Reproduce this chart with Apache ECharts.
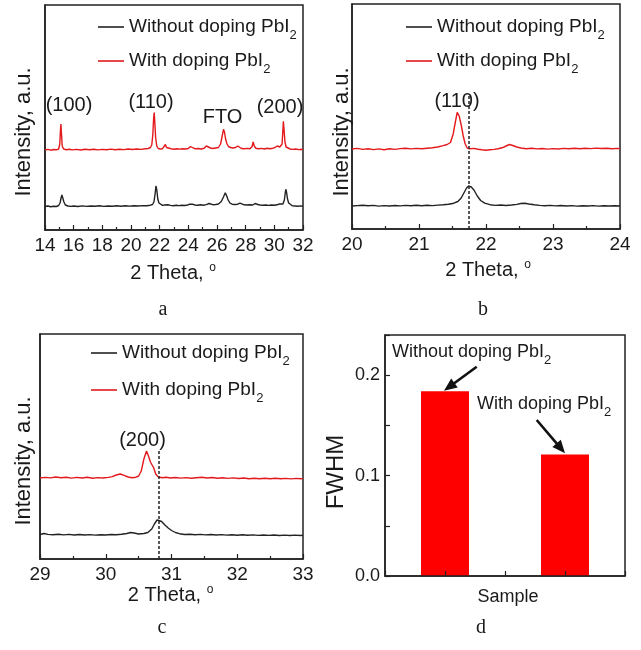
<!DOCTYPE html>
<html><head><meta charset="utf-8">
<script src="https://cdn.jsdelivr.net/npm/echarts@6/dist/echarts.min.js"></script>
<style>html,body{margin:0;padding:0;background:#fff}#c{width:641px;height:650px}</style>
</head><body><div id="c"></div>
<script>
const FONT = '"Liberation Sans", Arial, Helvetica, sans-serif';
const SERIF = '"Liberation Serif", "Times New Roman", serif';
const INK = '#1a1a1a';
const RED = '#e3191c';

const seriesNames = ['Without doping PbI2', 'With doping PbI2'];

// Panel a: 2θ 14–32
const aUndoped = [[14.0,23.5],[14.2,24],[14.4,23.3],[14.6,23.8],[14.8,23.5],[14.95,24.5],[15.05,27],[15.12,32],[15.18,35],[15.25,33],[15.32,28],[15.42,25],[15.6,24],[15.8,23.6],[16.0,24],[16.3,23.5],[16.6,24.1],[16.9,23.6],[17.2,24],[17.5,23.7],[17.8,24.2],[18.1,23.6],[18.4,24],[18.7,23.7],[19.0,24.2],[19.3,23.8],[19.6,24.2],[19.9,23.9],[20.2,24.3],[20.5,24],[20.8,24.4],[21.1,24.2],[21.35,24.8],[21.5,25.5],[21.6,28],[21.68,36],[21.74,44],[21.8,40],[21.87,31],[21.95,27],[22.05,25.2],[22.2,24.6],[22.35,25],[22.48,27],[22.58,25.2],[22.75,24.6],[22.95,24.3],[23.15,24.8],[23.35,24.4],[23.55,24.8],[23.75,24.5],[23.95,25],[24.1,25.8],[24.2,27],[24.3,25.8],[24.45,25],[24.65,24.7],[24.85,25.2],[25.05,24.8],[25.25,25.4],[25.45,26.5],[25.55,26],[25.7,25.3],[25.9,25.5],[26.1,26],[26.3,28.5],[26.45,33],[26.58,37.3],[26.68,34],[26.78,30],[26.9,27],[27.05,25.8],[27.25,25.5],[27.45,25.8],[27.6,26.8],[27.72,25.8],[27.9,25.2],[28.1,25],[28.3,25.3],[28.5,25],[28.65,26.5],[28.75,27],[28.85,25.5],[29.0,25],[29.2,24.7],[29.4,25],[29.6,24.6],[29.8,25],[30.0,24.7],[30.2,25.2],[30.35,26],[30.45,25.5],[30.6,26],[30.7,30],[30.76,37],[30.8,40.7],[30.85,38],[30.92,31],[31.0,27],[31.1,25],[31.25,24.2],[31.45,24],[31.65,23.8],[31.85,24.1],[32.0,23.7]];
const aDoped = [[14.0,80],[14.2,80.6],[14.4,79.8],[14.6,80.5],[14.8,80.2],[14.95,81],[15.03,86],[15.08,100],[15.11,106],[15.15,96],[15.2,84],[15.3,81],[15.5,80.3],[15.7,80.8],[15.9,80.1],[16.2,80.6],[16.5,80],[16.8,80.7],[17.1,80.2],[17.4,80.8],[17.7,80.1],[18.0,80.6],[18.3,80.3],[18.6,80.9],[18.9,80.2],[19.2,80.7],[19.5,80.4],[19.8,81],[20.1,80.5],[20.4,81],[20.7,80.6],[21.0,81.2],[21.2,81.5],[21.35,82.5],[21.45,85],[21.52,95],[21.58,112],[21.62,117.5],[21.66,108],[21.72,92],[21.8,84],[21.9,81.5],[22.05,81],[22.2,81.3],[22.32,83],[22.4,85.5],[22.48,82.5],[22.6,81],[22.8,81.3],[23.0,80.8],[23.2,81.2],[23.4,80.9],[23.6,81.3],[23.8,81],[24.0,81.5],[24.15,83.5],[24.25,84],[24.35,82],[24.5,81.2],[24.7,81.5],[24.9,81],[25.1,81.7],[25.25,84],[25.32,85.5],[25.4,83],[25.55,82],[25.7,81.5],[25.9,82],[26.1,82.5],[26.25,86],[26.35,93],[26.45,100.7],[26.52,98],[26.6,91],[26.7,86],[26.8,83.5],[26.95,82.5],[27.1,82],[27.3,82.5],[27.45,84],[27.55,83],[27.7,81.5],[27.9,81.2],[28.1,81.6],[28.3,81.2],[28.45,83.5],[28.52,88],[28.6,84],[28.7,81.8],[28.9,81.2],[29.1,81.6],[29.3,81],[29.5,81.7],[29.7,81.2],[29.9,81.8],[30.05,82.5],[30.2,84],[30.3,86],[30.38,83],[30.46,82],[30.54,86],[30.59,98],[30.63,108.7],[30.68,100],[30.74,88],[30.82,83],[30.95,81.5],[31.1,81],[31.3,80.6],[31.5,81],[31.7,80.4],[31.9,80.7],[32.0,80.3]];

// Panel b: 2θ 20–24
const bUndoped = [[20.0,23],[20.08,23.4],[20.16,23.8],[20.24,23.2],[20.32,23.6],[20.4,22.9],[20.48,23.4],[20.56,23],[20.64,23.5],[20.72,23.1],[20.8,23.6],[20.88,23.2],[20.96,23.7],[21.04,23.3],[21.12,23.8],[21.2,23.4],[21.28,23.9],[21.36,24.2],[21.44,24.8],[21.52,25.8],[21.58,27.5],[21.63,31],[21.67,36],[21.71,41],[21.74,43],[21.78,42],[21.82,39],[21.87,33],[21.92,28.5],[21.98,25.8],[22.06,24.3],[22.14,23.6],[22.22,24],[22.3,23.5],[22.38,24],[22.46,24.6],[22.52,25.5],[22.58,25.7],[22.64,25],[22.72,24.2],[22.8,23.6],[22.88,23.2],[22.96,23.6],[23.04,23.1],[23.12,23.5],[23.2,23],[23.28,23.4],[23.36,22.9],[23.44,23.3],[23.52,23],[23.6,23.4],[23.68,22.9],[23.76,23.3],[23.84,23],[23.92,23.3],[24.0,23]];
const bDoped = [[20.0,80],[20.08,80.6],[20.16,79.6],[20.24,80.3],[20.32,79.4],[20.4,80.1],[20.48,79.3],[20.56,80.2],[20.64,79.6],[20.72,80.4],[20.8,80.8],[20.88,80.1],[20.96,80.6],[21.04,80.2],[21.12,80.8],[21.2,81.3],[21.28,82],[21.36,83.4],[21.42,84.5],[21.47,86.5],[21.51,95],[21.54,106],[21.57,116.7],[21.6,113],[21.63,104],[21.66,93],[21.69,85],[21.72,81],[21.76,80.2],[21.82,80.6],[21.88,79.8],[21.94,79.2],[22.0,78.8],[22.06,79.3],[22.12,79.6],[22.18,80.3],[22.24,81.2],[22.3,83],[22.35,84.5],[22.4,83.5],[22.46,82],[22.52,81],[22.6,80.3],[22.68,80.8],[22.76,80.1],[22.84,80.5],[22.92,79.9],[23.0,80.4],[23.08,80],[23.16,80.6],[23.24,80.2],[23.32,80.7],[23.4,80.3],[23.48,80.8],[23.56,80.4],[23.64,80.9],[23.72,80.5],[23.8,80.8],[23.88,80.3],[23.96,80.6],[24.0,80.4]];

// Panel c: 2θ 29–33
const cUndoped = [[29.0,24.5],[29.06,25.5],[29.12,24.6],[29.2,24.2],[29.28,24.8],[29.36,24.1],[29.44,24.6],[29.52,24],[29.6,24.5],[29.68,24],[29.76,24.4],[29.84,23.9],[29.92,24.3],[30.0,24],[30.08,24.5],[30.16,24.2],[30.24,24.8],[30.32,25.5],[30.38,26.5],[30.43,26],[30.5,25],[30.58,25.5],[30.64,26.5],[30.7,30],[30.74,35],[30.78,39],[30.81,39.7],[30.85,37.5],[30.9,34],[30.95,31],[31.0,28.5],[31.06,26.5],[31.12,25.3],[31.2,24.5],[31.28,24.8],[31.36,24.2],[31.44,24.6],[31.52,24.1],[31.6,24.5],[31.68,24],[31.76,24.4],[31.84,23.9],[31.92,24.3],[32.0,23.8],[32.08,24.2],[32.16,23.7],[32.24,24.1],[32.32,23.6],[32.4,24],[32.48,23.6],[32.56,24],[32.64,23.5],[32.72,23.9],[32.8,23.5],[32.88,23.9],[32.96,23.5],[33.0,23.7]];
const cDoped = [[29.0,81],[29.08,81.6],[29.16,81.1],[29.24,82],[29.32,81.2],[29.4,81.8],[29.48,80.9],[29.56,81.6],[29.64,81],[29.72,81.7],[29.8,80.8],[29.88,81.4],[29.96,81],[30.04,81.6],[30.1,82.4],[30.16,84],[30.22,85],[30.28,83.6],[30.34,82],[30.4,81.3],[30.46,81.8],[30.5,83],[30.54,88],[30.58,100],[30.62,108],[30.65,103],[30.68,97],[30.7,96],[30.73,91],[30.76,85],[30.8,82],[30.86,81.3],[30.92,81.8],[30.98,81],[31.06,81.5],[31.14,80.9],[31.22,81.4],[31.3,80.8],[31.38,81.3],[31.46,81.7],[31.54,81],[31.62,81.5],[31.7,80.8],[31.78,81.2],[31.86,80.6],[31.94,81.1],[32.02,80.5],[32.1,81],[32.18,80.3],[32.26,80.8],[32.34,80.2],[32.42,80.7],[32.5,80.3],[32.58,80.8],[32.66,80.2],[32.74,80.6],[32.82,80.1],[32.9,80.6],[32.96,80.2],[33.0,80.4]];

// Panel d: FWHM
const dSamples = ['Without doping PbI2', 'With doping PbI2'];
const dFWHM = [0.184, 0.121];

// Reference peak positions (dashed guides)
const bPeakRef = 21.74;
const cPeakRef = 30.81;

const chart = echarts.init(document.getElementById('c'), null, {renderer: 'canvas'});

const subRich = {sub: {fontSize: 13, lineHeight: 13, verticalAlign: 'bottom', fontFamily: FONT, color: INK}};
const subFmt = n => n.replace('PbI2', 'PbI{sub|2}');

function gridBox(left, top, width, height) {
  return {left, top, width, height, show: true, borderColor: '#222', borderWidth: 1.5, containLabel: false};
}
function xVal(gi, min, max, interval) {
  return {
    gridIndex: gi, type: 'value', min, max, interval,
    axisLine: {show: true, onZero: false, lineStyle: {color: '#222', width: 1.5}},
    axisTick: {show: true, inside: true, length: 5, lineStyle: {color: '#222', width: 1.2}},
    minorTick: {show: true, splitNumber: 2, length: 3, lineStyle: {color: '#222', width: 1.2}},
    axisLabel: {margin: 6, fontSize: 19, fontFamily: FONT, color: INK},
    splitLine: {show: false}
  };
}
function yHidden(gi) {
  return {gridIndex: gi, type: 'value', min: 0, max: 225,
    axisLine: {show: true, lineStyle: {color: '#222', width: 1.5}},
    axisTick: {show: false}, axisLabel: {show: false}, splitLine: {show: false}};
}
function lineSeries(name, xi, data, color, extra) {
  return Object.assign({
    name, type: 'line', xAxisIndex: xi, yAxisIndex: xi, data,
    symbol: 'none', smooth: false, animation: false,
    lineStyle: {color, width: 1.4}, itemStyle: {color}
  }, extra || {});
}
function guide(x, top) {
  return {
    symbol: ['none', 'none'], silent: true, animation: false,
    label: {show: false},
    lineStyle: {type: [3, 2], color: '#222', width: 1.5},
    data: [[{coord: [x, 0]}, {coord: [x, top]}]]
  };
}
function legendAt(left, top, gap) {
  return {
    data: seriesNames, left, top, padding: 0, orient: 'vertical',
    icon: 'rect', itemWidth: 26, itemHeight: 1.6, itemGap: gap,
    formatter: subFmt, selectedMode: false,
    textStyle: {fontFamily: FONT, fontSize: 19, color: INK, lineHeight: 30, rich: subRich}
  };
}
function txt(x, y, text, size, opt) {
  opt = opt || {};
  return {
    type: 'text', x, y, rotation: opt.rot || 0, silent: true, z: 50,
    style: {
      text, fontSize: size, fontFamily: opt.font || FONT, fill: INK,
      align: opt.align || 'center', verticalAlign: 'middle',
      lineHeight: opt.lh, rich: opt.rich
    }
  };
}
const thetaRich = {sup: {fontSize: 12, lineHeight: 10, verticalAlign: 'top', fontFamily: FONT, color: INK}};
function arrow(x1, y1, x2, y2) {
  const dx = x2 - x1, dy = y2 - y1, L = Math.hypot(dx, dy);
  const ux = dx / L, uy = dy / L, hl = 13, hw = 5.5;
  const bx = x2 - ux * hl, by = y2 - uy * hl;
  return [
    {type: 'line', silent: true, z: 50, shape: {x1, y1, x2: bx + ux * 2, y2: by + uy * 2}, style: {stroke: '#111', lineWidth: 2.6}},
    {type: 'polygon', silent: true, z: 50, shape: {points: [[x2, y2], [bx - uy * hw, by + ux * hw], [bx + uy * hw, by - ux * hw]]}, style: {fill: '#111'}}
  ];
}

const option = {
  backgroundColor: '#fff',
  animation: false,
  grid: [gridBox(45, 5, 258, 225), gridBox(352, 4, 268, 225), gridBox(40, 334, 263, 225), gridBox(385, 335, 240, 241)],
  xAxis: [
    xVal(0, 14, 32, 2),
    xVal(1, 20, 24, 1),
    xVal(2, 29, 33, 1),
    {gridIndex: 3, type: 'value', min: 0, max: 2, interval: 0.5, z: 10,
      axisLine: {show: true, onZero: false, lineStyle: {color: '#222', width: 1.5}},
      axisTick: {show: true, inside: true, length: 5, lineStyle: {color: '#222', width: 1.2}},
      axisLabel: {show: false}, splitLine: {show: false}}
  ],
  yAxis: [
    yHidden(0), yHidden(1), yHidden(2),
    {gridIndex: 3, type: 'value', min: 0, max: 0.24, interval: 0.05,
      axisLine: {show: true, lineStyle: {color: '#222', width: 1.5}},
      axisTick: {show: true, inside: true, length: 5, lineStyle: {color: '#222', width: 1.2}},
      axisLabel: {margin: 5, fontSize: 18, fontFamily: FONT, color: INK,
        formatter: v => (Math.abs(v * 10 - Math.round(v * 10)) < 1e-6 ? v.toFixed(1) : '')},
      splitLine: {show: false}}
  ],
  legend: [legendAt(98, 12, 4), legendAt(406, 12, 4), legendAt(91, 338, 7)],
  series: [
    lineSeries(seriesNames[0], 0, aUndoped, '#222'),
    lineSeries(seriesNames[1], 0, aDoped, RED),
    lineSeries(seriesNames[0], 1, bUndoped, '#222', {markLine: guide(bPeakRef, 133)}),
    lineSeries(seriesNames[1], 1, bDoped, RED),
    lineSeries(seriesNames[0], 2, cUndoped, '#222', {markLine: guide(cPeakRef, 109)}),
    lineSeries(seriesNames[1], 2, cDoped, RED),
    {type: 'bar', xAxisIndex: 3, yAxisIndex: 3, barWidth: 48, animation: false,
      data: dFWHM.map((v, i) => ({name: dSamples[i], value: [i + 0.5, v]})),
      itemStyle: {color: '#ff0000'}}
  ],
  graphic: [
    txt(69, 105, '(100)', 20), txt(151, 102, '(110)', 20), txt(222.5, 117, 'FTO', 20), txt(280, 107, '(200)', 20),
    txt(457, 101, '(110)', 20),
    txt(142.5, 440, '(200)', 20),
    txt(173, 273, '2 Theta, {sup|o}', 20, {lh: 22, rich: thetaRich}),
    txt(488, 270, '2 Theta, {sup|o}', 20, {lh: 22, rich: thetaRich}),
    txt(170.5, 595, '2 Theta, {sup|o}', 20, {lh: 22, rich: thetaRich}),
    txt(24, 132, 'Intensity, a.u.', 22, {rot: Math.PI / 2}),
    txt(342, 132, 'Intensity, a.u.', 22, {rot: Math.PI / 2}),
    txt(24, 461, 'Intensity, a.u.', 22, {rot: Math.PI / 2}),
    txt(336, 472, 'FWHM', 24, {rot: Math.PI / 2}),
    txt(508, 597, 'Sample', 18),
    txt(392, 352, subFmt(dSamples[0]), 18, {align: 'left', lh: 30, rich: subRich}),
    txt(477, 404, subFmt(dSamples[1]), 18, {align: 'left', lh: 30, rich: subRich}),
    ...arrow(476.7, 366.7, 444, 390.7),
    ...arrow(536.7, 420, 565, 453.3),
    txt(163, 310, 'a', 20, {font: SERIF}), txt(483, 310, 'b', 20, {font: SERIF}),
    txt(162, 628, 'c', 20, {font: SERIF}), txt(481, 628, 'd', 20, {font: SERIF})
  ]
};
chart.setOption(option);
</script></body></html>
